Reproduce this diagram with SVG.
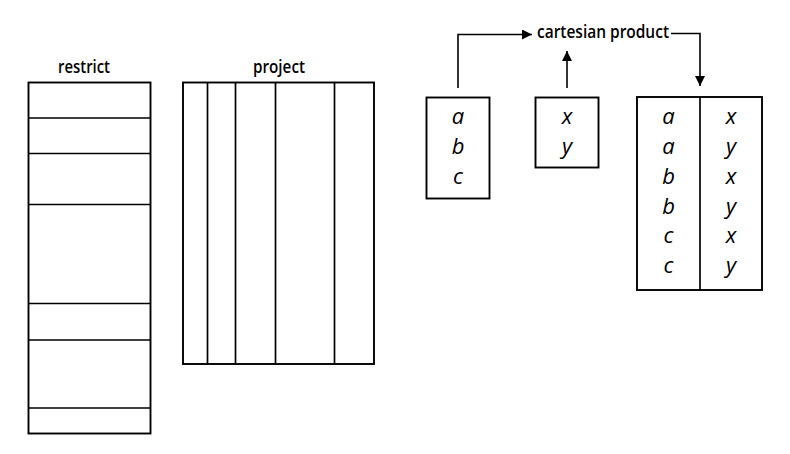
<svg xmlns="http://www.w3.org/2000/svg" width="790" height="454" viewBox="0 0 790 454">
<style>
.box{fill:#fff;stroke:#000;stroke-width:1.9}
.ln{stroke:#000;stroke-width:1.7;fill:none}
.lbl{font-family:"Open Sans","Noto Sans",sans-serif;font-size:18px;font-weight:600;fill:#000}
.it{font-family:"Open Sans","Noto Sans",sans-serif;font-style:italic;font-size:22px;font-weight:500;fill:#000;text-anchor:middle}
.con{stroke:#000;stroke-width:1.6;fill:none}
</style>
<defs>
<marker id="ah" viewBox="0 0 10 10" refX="10" refY="5" markerWidth="13" markerHeight="10" markerUnits="userSpaceOnUse" orient="auto">
<path d="M0,0 L10,5 L0,10 Z" fill="#000"/>
</marker>
</defs>
<g id="restrict">
<text class="lbl" x="58" y="73" textLength="52" lengthAdjust="spacingAndGlyphs">restrict</text>
<rect class="box" x="28.5" y="82.5" width="122" height="351"/>
<path class="ln" d="M28.5,118 H150.5 M28.5,153.5 H150.5 M28.5,204.5 H150.5 M28.5,303.5 H150.5 M28.5,340 H150.5 M28.5,408 H150.5"/>
</g>
<g id="project">
<text class="lbl" x="253" y="73" textLength="52" lengthAdjust="spacingAndGlyphs">project</text>
<rect class="box" x="183" y="82.5" width="191" height="281.5"/>
<path class="ln" d="M207.5,82.5 V364 M235.5,82.5 V364 M275.5,82.5 V364 M334.5,82.5 V364"/>
</g>
<g id="cartesian-label">
<text class="lbl" x="537" y="38" textLength="132" lengthAdjust="spacingAndGlyphs">cartesian product</text>
</g>
<g id="set-abc">
<rect class="box" x="426.5" y="97.5" width="63" height="101"/>
<text class="it" x="458" y="124">a</text>
<text class="it" x="458" y="154">b</text>
<text class="it" x="458" y="184">c</text>
</g>
<g id="set-xy">
<rect class="box" x="535.5" y="97.5" width="63" height="70"/>
<text class="it" x="567" y="124">x</text>
<text class="it" x="567" y="154">y</text>
</g>
<g id="result">
<rect class="box" x="637" y="97" width="125" height="193"/>
<path class="ln" d="M700,97 V290"/>
<text class="it" x="668.5" y="124">a</text>
<text class="it" x="668.5" y="154">a</text>
<text class="it" x="668.5" y="183.5">b</text>
<text class="it" x="668.5" y="213.5">b</text>
<text class="it" x="668.5" y="243">c</text>
<text class="it" x="668.5" y="273">c</text>
<text class="it" x="731" y="124">x</text>
<text class="it" x="731" y="154">y</text>
<text class="it" x="731" y="183.5">x</text>
<text class="it" x="731" y="213.5">y</text>
<text class="it" x="731" y="243">x</text>
<text class="it" x="731" y="273">y</text>
</g>
<g id="connectors">
<path class="con" d="M458,88 V34.5 H532" marker-end="url(#ah)"/>
<path class="con" d="M567,88 V51" marker-end="url(#ah)"/>
<path class="con" d="M671,33.5 H700 V86" marker-end="url(#ah)"/>
</g>
</svg>
